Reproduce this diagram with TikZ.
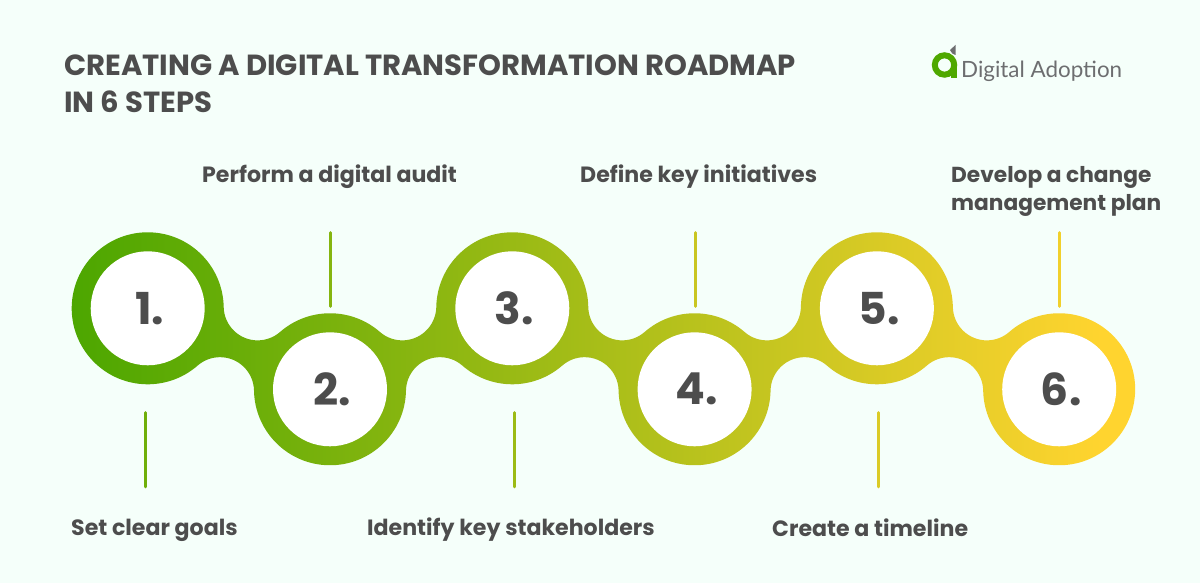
\documentclass[tikz,border=0pt]{standalone}
\usepackage{fontspec}
\setmainfont{Poppins}
\newfontfamily\logofont{Lato}
\usetikzlibrary{calc}
\definecolor{bgc}{HTML}{F5FFFA}
\definecolor{ink}{HTML}{4D4D4D}
\definecolor{logogray}{HTML}{6D6E70}
\definecolor{logogreen}{HTML}{4FA800}
\definecolor{gstart}{HTML}{4BA600}
\definecolor{gend}{HTML}{FFD42F}
\pgfdeclarehorizontalshading{ribbonshade}{100bp}{color(0bp)=(gstart); color(25bp)=(gstart); color(73bp)=(gend); color(100bp)=(gend)}
\tikzset{
  hole/.style={circle,fill=white,minimum size=114pt,inner sep=0pt,font=\fontsize{44}{44}\selectfont\bfseries,text=ink},
  label/.style={font=\fontsize{22.1}{28}\selectfont\bfseries,text=ink,align=left,inner sep=0pt},
  titletext/.style={font=\fontsize{29.1}{37}\selectfont\bfseries,text=ink,align=left,inner sep=0pt,anchor=north west},
  tick/.style={line width=2.6pt,line cap=round}
}
\begin{document}
\begin{tikzpicture}[x=1pt,y=1pt]
\useasboundingbox (0,0) rectangle (1200,583);
\fill[bgc] (0,0) rectangle (1200,583);
% ribbon
\path[shading=ribbonshade]
 (223.69,276.03)
 arc[start angle=181,end angle=311.1,radius=34pt]
 arc[start angle=131.1,end angle=48.9,radius=76pt]
 arc[start angle=228.9,end angle=359,radius=34pt]
 arc[start angle=179,end angle=1,radius=76pt]
 arc[start angle=181,end angle=311.1,radius=34pt]
 arc[start angle=131.1,end angle=48.9,radius=76pt]
 arc[start angle=228.9,end angle=359,radius=34pt]
 arc[start angle=179,end angle=1,radius=76pt]
 arc[start angle=181,end angle=311.1,radius=34pt]
 arc[start angle=131.1,end angle=-179,radius=76pt]
 arc[start angle=1,end angle=131.1,radius=34pt]
 arc[start angle=311.1,end angle=228.9,radius=76pt]
 arc[start angle=48.9,end angle=179,radius=34pt]
 arc[start angle=359,end angle=181,radius=76pt]
 arc[start angle=1,end angle=131.1,radius=34pt]
 arc[start angle=311.1,end angle=228.9,radius=76pt]
 arc[start angle=48.9,end angle=179,radius=34pt]
 arc[start angle=359,end angle=181,radius=76pt]
 arc[start angle=1,end angle=131.1,radius=34pt]
 arc[start angle=-48.9,end angle=-359,radius=76pt]
 -- cycle;
% circles
\node[hole] (n1) at (147.7,274.7) {\kern4pt 1.};
\node[hole] (n2) at (330,193.7) {\kern4pt 2.};
\node[hole] (n3) at (512.3,274.7) {\kern4pt 3.};
\node[hole] (n4) at (694.6,193.7) {\kern4pt 4.};
\node[hole] (n5) at (876.9,274.7) {\kern4pt 5.};
\node[hole] (n6) at (1059.2,193.7) {\kern4pt 6.};
% ticks
\draw[tick,color=gstart!80!gend] (145.5,170.5) coordinate (t1a) -- (145.5,96) coordinate (t1b);
\draw[tick,color=gstart!68!gend] (330.5,350.5) coordinate (t2a) -- (330.5,276.5) coordinate (t2b);
\draw[tick,color=gstart!55!gend] (514.5,170.5) coordinate (t3a) -- (514.5,96) coordinate (t3b);
\draw[tick,color=gstart!30!gend] (695.5,350.5) coordinate (t4a) -- (695.5,276.5) coordinate (t4b);
\draw[tick,color=gstart!20!gend] (878.5,170.5) coordinate (t5a) -- (878.5,96) coordinate (t5b);
\draw[tick,color=gstart!8!gend] (1059.5,350.5) coordinate (t6a) -- (1059.5,276.5) coordinate (t6b);
% labels
\node[label,anchor=west] (l1) at (71,53) {Set clear goals};
\node[label,anchor=west] (l2) at (202,406) {Perform a digital audit};
\node[label,anchor=west] (l3) at (367,53) {Identify key stakeholders};
\node[label,anchor=west] (l4) at (580,406) {Define key initiatives};
\node[label,anchor=west] (l5) at (772,55) {Create a timeline};
\node[label,anchor=west,font=\fontsize{21.7}{28}\selectfont\bfseries] (l6) at (951,392) {Develop a change\\management plan};
% title
\node[titletext] (title) at (64,528.5) {CREATING A DIGITAL TRANSFORMATION ROADMAP\\IN 6 STEPS};
% logo
\draw[logogreen,line width=6pt] (944.5,518) circle (9.7pt);
\fill[logogreen] (951,505) rectangle (957,518);
\fill[logogray] (950,533) .. controls (952,535) and (954,536.5) .. (955.5,538) -- (955.5,528) .. controls (953,528.5) and (951,530) .. (950,533) -- cycle;
\node[inner sep=0pt,anchor=west,text=logogray,font=\logofont\fontsize{22.4}{23}\selectfont] (logo) at (961,511.5) {Digital Adoption};
\end{tikzpicture}
\end{document}
